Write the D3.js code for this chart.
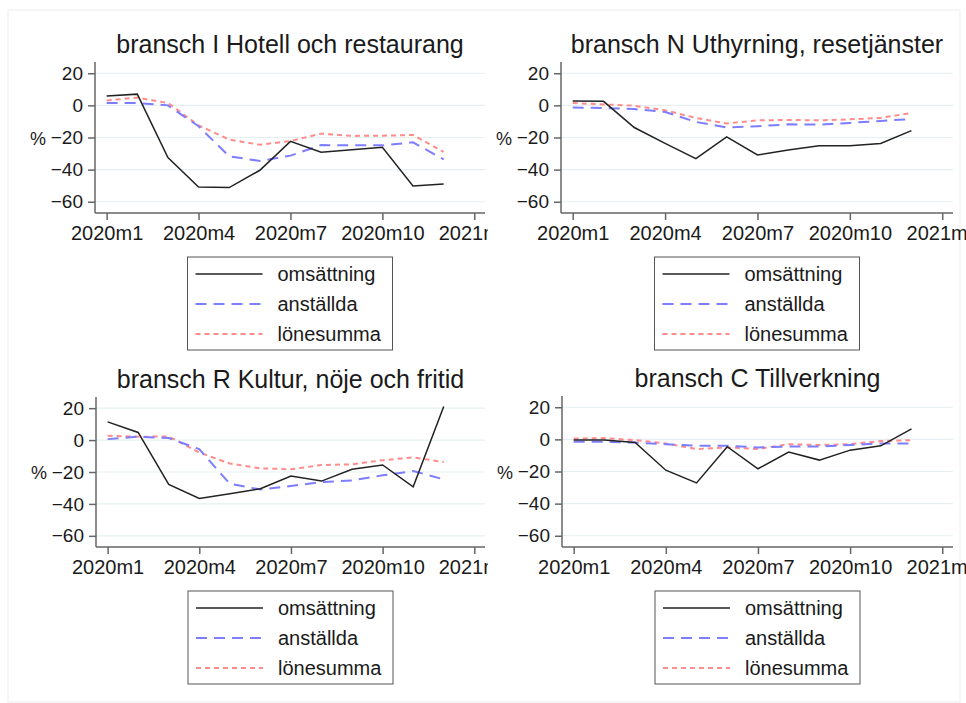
<!DOCTYPE html>
<html>

<head>
  <meta charset="utf-8" />
  <title>Bransch</title>
  <style>
    body {
      margin: 0;
      background: #fff;
    }

    svg text {
      font-family: "Liberation Sans", Arial, sans-serif;
      fill: #1a1a1a;
    }
  </style>
  <script src="https://cdnjs.cloudflare.com/ajax/libs/d3/7.8.5/d3.min.js"></script>
</head>

<body>
  <div id="chartArea"></div>
  <script>
    // months 2020m1 .. 2020m12
    var months = [1, 2, 3, 4, 5, 6, 7, 8, 9, 10, 11, 12];
    var xTicks = [1, 4, 7, 10, 13];
    var xTickLabels = ['2020m1', '2020m4', '2020m7', '2020m10', '2021m1'];
    var yTicks = [20, 0, -20, -40, -60];
    var seriesNames = ['omsättning', 'anställda', 'lönesumma'];
    var titles = ['bransch I Hotell och restaurang', 'bransch N Uthyrning, resetjänster',
      'bransch R Kultur, nöje och fritid', 'bransch C Tillverkning'];

    // bransch I
    var hotellOms = [5.8, 7.0, -32.5, -50.8, -51.2, -40.4, -22.4, -29.2, -27.6, -26.1, -50.2, -48.9];
    var hotellAnst = [1.5, 1.5, 0, -13, -31.7, -34.6, -31.3, -24.7, -24.9, -24.9, -23, -33.6];
    var hotellLon = [3.1, 4.8, 1.5, -12.4, -21.3, -24.5, -22.2, -17.6, -19, -18.9, -18.4, -29];
    // bransch N
    var uthyrOms = [2.7, 2.5, -13.8, -23.7, -33.2, -19.6, -30.9, -27.8, -25.2, -25.2, -23.7, -15.7];
    var uthyrAnst = [-1.4, -1.6, -2.3, -4.1, -10.3, -13.8, -13, -11.8, -12, -10.9, -9.7, -8.5];
    var uthyrLon = [1.4, 0.6, -0.2, -3.1, -7.8, -11.3, -9.3, -9.1, -9.3, -8.7, -7.8, -4.7];
    // bransch R
    var kulturOms = [11.4, 4.8, -27.8, -36.6, -33.7, -30.5, -22.5, -25.7, -18.3, -15.6, -29.3, 21];
    var kulturAnst = [0.6, 2.1, 1.3, -5.7, -27.4, -31, -28.8, -26.3, -25.3, -22.1, -19.4, -24.6];
    var kulturLon = [2.7, 2.1, 2.3, -7.8, -14.7, -17.7, -18.3, -15.6, -15.2, -12.6, -10.9, -13.7];
    // bransch C
    var tillvOms = [-0.4, -0.4, -1.9, -19.2, -27.1, -4.6, -18.3, -7.9, -12.9, -6.7, -4, 6.5];
    var tillvAnst = [-1.5, -1.5, -2, -3, -4, -4, -5, -4.5, -4.5, -3.5, -2.5, -2.5];
    var tillvLon = [0.5, 0.8, -0.5, -2.5, -6, -5, -6, -3, -3.5, -3, -1, -0.5];

    var panelData = [
      [hotellOms, hotellAnst, hotellLon],
      [uthyrOms, uthyrAnst, uthyrLon],
      [kulturOms, kulturAnst, kulturLon],
      [tillvOms, tillvAnst, tillvLon]
    ];

    var lineStyles = [
      { color: '#222222', dash: null, width: 1.5 },
      { color: '#7d7dff', dash: '11,7', width: 2 },
      { color: '#ff8c8c', dash: '5,4', width: 2 }
    ];

    var W = 966, H = 703;
    var svg = d3.select('#chartArea').append('svg')
      .attr('width', W)
      .attr('height', H);

    svg.append('rect')
      .attr('x', 8).attr('y', 10)
      .attr('width', 952).attr('height', 692)
      .attr('fill', 'none')
      .attr('stroke', '#eeeeee');

    // plot areas
    var frames = [
      { x0: 95, x1: 485, y0: 62, y1: 213, clip: 488 },
      { x0: 561, x1: 953, y0: 62, y1: 213, clip: 966 },
      { x0: 96, x1: 485, y0: 397, y1: 547, clip: 488 },
      { x0: 562, x1: 953, y0: 396, y1: 547, clip: 966 }
    ];

    frames.forEach(function (f, i) {
      var left = i % 2 === 0 ? 0 : 490;
      var clipId = 'clip' + i;
      svg.append('clipPath').attr('id', clipId)
        .append('rect')
        .attr('x', left).attr('y', 0)
        .attr('width', f.clip - left).attr('height', H);

      var g = svg.append('g').attr('clip-path', 'url(#' + clipId + ')');

      var x = d3.scaleLinear().domain([0.62, 13.35]).range([f.x0, f.x1]);
      var y = d3.scaleLinear().domain([-67, 27]).range([f.y1, f.y0]);

      // grid
      g.selectAll('.grid')
        .data(yTicks)
        .enter()
        .append('line')
        .attr('x1', f.x0).attr('x2', f.x1)
        .attr('y1', d => y(d)).attr('y2', d => y(d))
        .attr('stroke', '#e6eff1')
        .attr('stroke-width', 1.2);

      // y axis
      var yAxis = g.append('g')
        .attr('transform', 'translate(' + f.x0 + ',0)')
        .call(d3.axisLeft(y).tickValues(yTicks).tickSize(7).tickPadding(5).tickSizeOuter(0));
      yAxis.select('.domain').attr('stroke', '#666').attr('stroke-width', 1.5)
        .attr('d', 'M0,' + f.y0 + 'V' + f.y1);
      yAxis.selectAll('.tick line').attr('stroke', '#666').attr('stroke-width', 1.5);
      yAxis.selectAll('.tick text').style('font-size', '19px').attr('fill', '#1a1a1a');

      // x axis
      var xAxis = g.append('g')
        .attr('transform', 'translate(0,' + f.y1 + ')')
        .call(d3.axisBottom(x).tickValues(xTicks)
          .tickFormat((d, j) => xTickLabels[j])
          .tickSize(7).tickPadding(6).tickSizeOuter(0));
      xAxis.select('.domain').attr('stroke', '#666').attr('stroke-width', 1.5)
        .attr('d', 'M' + f.x0 + ',0H' + f.x1);
      xAxis.selectAll('.tick line').attr('stroke', '#666').attr('stroke-width', 1.5);
      xAxis.selectAll('.tick text').style('font-size', '20px').attr('fill', '#1a1a1a');

      // y title
      g.append('text')
        .attr('x', f.x0 - 57)
        .attr('y', (f.y0 + f.y1) / 2 + 7)
        .attr('text-anchor', 'middle')
        .style('font-size', '18px')
        .text('%');

      // title
      g.append('text')
        .attr('x', (f.x0 + f.x1) / 2)
        .attr('y', f.y0 - 9)
        .attr('text-anchor', 'middle')
        .style('font-size', '25px')
        .text(titles[i]);

      // series
      var line = d3.line()
        .x((d, j) => x(months[j]))
        .y(d => y(d));

      panelData[i].slice().reverse().forEach(function (vals, k) {
        var s = lineStyles[2 - k];
        g.append('path')
          .datum(vals)
          .attr('d', line)
          .attr('fill', 'none')
          .attr('stroke', s.color)
          .attr('stroke-width', s.width)
          .attr('stroke-dasharray', s.dash);
      });

      // legend
      var lw = 205, lh = 93;
      var lx = (f.x0 + f.x1) / 2 - lw / 2, ly = f.y1 + 44;
      var lg = g.append('g').attr('transform', 'translate(' + lx + ',' + ly + ')');
      lg.append('rect')
        .attr('width', lw).attr('height', lh)
        .attr('fill', '#fff')
        .attr('stroke', '#555')
        .attr('stroke-width', 1);
      seriesNames.forEach(function (name, k) {
        var ry = 17 + k * 30;
        var s = lineStyles[k];
        lg.append('line')
          .attr('x1', 8).attr('x2', 75)
          .attr('y1', ry).attr('y2', ry)
          .attr('stroke', s.color)
          .attr('stroke-width', s.width)
          .attr('stroke-dasharray', s.dash);
        lg.append('text')
          .attr('x', 90).attr('y', ry + 7)
          .style('font-size', '20px')
          .text(name);
      });
    });
  </script>
</body>

</html>
